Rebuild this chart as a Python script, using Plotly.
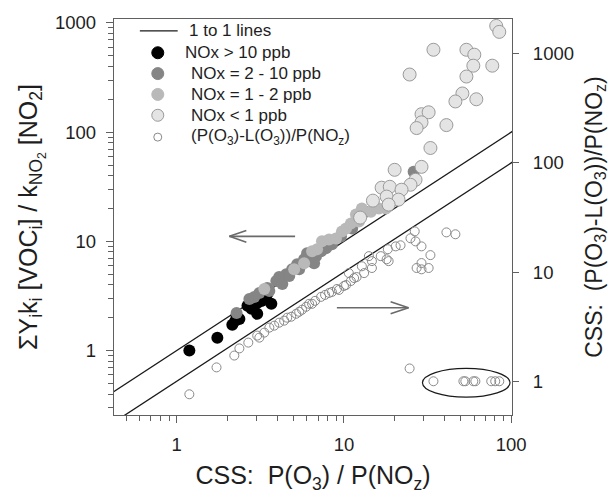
import plotly.graph_objects as go

# ---------------- data ----------------
black_x = [1.19, 1.75, 2.15, 2.28, 2.37, 2.65, 3.03, 3.03, 3.68, 3.21, 2.80, 3.48, 2.24]
black_y = [1.00, 1.31, 1.72, 2.08, 1.95, 2.57, 2.73, 2.17, 2.68, 2.85, 2.41, 3.30, 1.87]

grey_x = [2.28, 3.12, 3.48, 3.94, 4.10, 4.52, 4.90, 5.25, 5.78, 6.02, 6.36, 6.81, 7.30,
          7.81, 8.48, 9.60, 11.2, 13.5, 26.1, 4.28, 3.58, 4.71, 5.40, 6.63, 2.72, 2.91]
grey_y = [2.21, 3.37, 3.74, 4.33, 4.71, 5.01, 5.56, 6.18, 6.86, 7.78, 6.58, 7.31, 8.11,
          8.64, 9.39, 11.1, 13.1, 18.7, 43.3, 4.06, 3.51, 4.81, 5.56, 6.31, 2.97, 3.10]

light_x = [6.45, 7.39, 8.15, 8.96, 9.73, 10.3, 11.0, 11.8, 12.8, 12.3, 14.5, 16.2, 17.8,
           3.34, 5.04, 5.78, 6.91]
light_y = [8.11, 10.0, 10.4, 10.6, 12.3, 13.1, 14.6, 17.6, 20.0, 15.2, 18.7, 20.0, 20.0,
           3.66, 5.56, 6.31, 8.46]

vlight_x = [81.4, 84.9, 34.3, 54.0, 60.2, 59.4, 77.1, 54.0, 24.7, 51.1, 46.4, 61.9, 29.1,
            32.1, 29.1, 27.2, 41.0, 32.9, 20.1, 29.1, 26.8, 25.0, 16.8, 18.8, 22.1, 18.0,
            14.9, 21.2, 18.5, 12.5]
vlight_y = [939, 828, 568, 568, 512, 406, 406, 323, 337, 226, 191, 200, 146,
            152, 123, 109, 116, 71.6, 45.2, 48.1, 36.6, 33.0, 31.0, 31.6, 29.7, 25.7,
            23.6, 24.1, 21.7, 16.5]

# (P(O3)-L(O3))/P(NOz), right axis
open_x = [1.19, 1.73, 2.21, 2.37, 2.68, 3.03, 3.12, 3.58, 4.10, 4.58, 5.18, 5.62, 6.19,
          6.72, 7.30, 8.15, 9.08, 10.0, 11.0, 11.5, 10.7, 12.8, 14.1, 14.7, 14.7, 16.6,
          18.0, 18.5, 18.3, 20.4, 21.8, 25.0, 26.5, 26.8, 29.1, 32.9, 29.1, 27.2, 29.1,
          32.1, 41.0, 46.4, 24.7, 34.3, 51.8, 53.2, 59.4, 61.1, 76.0, 80.3, 84.9,
          3.34, 3.83, 4.39, 4.84, 5.40, 5.94, 6.45, 7.71, 8.48, 9.34, 10.3, 11.9, 13.2]
open_y = [0.76, 1.34, 1.72, 2.0, 2.26, 2.62, 2.51, 3.10, 3.44, 3.82, 4.15, 4.52, 5.12,
          5.45, 5.93, 6.44, 7.0, 7.46, 8.28, 8.82, 9.79, 11.3, 14.0, 12.6, 10.9, 14.0,
          13.1, 12.6, 16.2, 17.2, 17.6, 20.4, 23.6, 19.1, 17.2, 14.3, 12.1, 10.9, 10.6,
          10.9, 23.1, 22.2, 1.31, 1.0, 1.0, 1.0, 1.0, 1.0, 1.0, 1.0, 1.0,
          2.79, 3.23, 3.59, 3.90, 4.33, 4.81, 5.12, 6.18, 6.58, 6.86, 7.62, 9.01, 9.79]

one_to_one = [0.3, 120]

x_ticks = [1, 10, 100]
y_ticks = [1, 10, 100, 1000]
x_minor = [0.5, 0.6, 0.7, 0.8, 0.9, 2, 3, 4, 5, 6, 7, 8, 9, 20, 30, 40, 50, 60, 70, 80, 90]
y_minor = [0.3, 0.4, 0.5, 0.6, 0.7, 0.8, 0.9, 2, 3, 4, 5, 6, 7, 8, 9,
           20, 30, 40, 50, 60, 70, 80, 90, 200, 300, 400, 500, 600, 700, 800, 900]

FONT = "Arial, Liberation Sans, sans-serif"
AX = "#606060"

fig = go.Figure()

fig.add_trace(go.Scatter(x=one_to_one, y=one_to_one, mode="lines",
                         line=dict(color="#1a1a1a", width=1.3), name="1 to 1 lines",
                         showlegend=False))
fig.add_trace(go.Scatter(x=one_to_one, y=one_to_one, mode="lines", yaxis="y2",
                         line=dict(color="#1a1a1a", width=1.3), showlegend=False))

fig.add_trace(go.Scatter(x=black_x, y=black_y, mode="markers", name="NOx > 10 ppb",
                         marker=dict(size=12, color="#000000", line=dict(width=0)),
                         showlegend=False))
fig.add_trace(go.Scatter(x=grey_x, y=grey_y, mode="markers", name="NOx = 2 - 10 ppb",
                         marker=dict(size=12, color="#858585", line=dict(width=0)),
                         showlegend=False))
fig.add_trace(go.Scatter(x=light_x, y=light_y, mode="markers", name="NOx = 1 - 2 ppb",
                         marker=dict(size=12, color="#b9b9b9", line=dict(width=0)),
                         showlegend=False))
fig.add_trace(go.Scatter(x=vlight_x, y=vlight_y, mode="markers", name="NOx < 1 ppb",
                         marker=dict(size=13, color="#e4e4e4",
                                     line=dict(width=1, color="#9a9a9a")),
                         showlegend=False))
fig.add_trace(go.Scatter(x=open_x, y=open_y, mode="markers", yaxis="y2",
                         name="(P(O3)-L(O3))/P(NOz)",
                         marker=dict(size=9, color="rgba(255,255,255,0)", symbol="circle",
                                     line=dict(width=1, color="#8a8a8a")),
                         showlegend=False))

W, H = 614, 498
L, R, T, B = 114, 100, 16, 83
PW, PH = W - L - R, H - T - B


def px(x):
    return (x - L) / PW


def py(y):
    return (H - B - y) / PH


shapes = []
annotations = []

# manual legend
rows = [28, 50, 71, 92, 113, 135]
shapes.append(dict(type="line", xref="paper", yref="paper", x0=px(140), x1=px(178),
                   y0=py(rows[0]), y1=py(rows[0]), line=dict(color="#1a1a1a", width=1.3)))
leg_markers = [("#000000", "#000000", 6), ("#858585", "#858585", 6),
               ("#b9b9b9", "#b9b9b9", 6), ("#e4e4e4", "#9a9a9a", 6),
               ("rgba(0,0,0,0)", "#8a8a8a", 4)]
for (fc, lc, r), yy in zip(leg_markers, rows[1:]):
    shapes.append(dict(type="circle", xref="paper", yref="paper",
                       xsizemode="pixel", ysizemode="pixel",
                       xanchor=px(158), yanchor=py(yy), x0=-r, x1=r, y0=-r, y1=r,
                       fillcolor=fc, line=dict(color=lc, width=1)))
leg_texts = [("1 to 1 lines", 187), ("NOx > 10 ppb", 183), ("NOx = 2 - 10 ppb", 189),
             ("NOx = 1 - 2 ppb", 189), ("NOx < 1 ppb", 189),
             ("(P(O<sub>3</sub>)-L(O<sub>3</sub>))/P(NO<sub>z</sub>)", 189)]
for (t, xx), yy in zip(leg_texts, rows):
    annotations.append(dict(text=t, xref="paper", yref="paper", x=px(xx), y=py(yy),
                            xanchor="left", yanchor="middle", showarrow=False,
                            font=dict(family=FONT, size=17, color="#1e1e1e")))

# arrows
ac = dict(color="#6a6a6a", width=1.6)
for (x0, y0, x1, y1) in [(296, 235, 230, 235), (230, 235, 247, 229), (230, 235, 247, 241),
                         (338, 307, 410, 307), (410, 307, 392, 301), (410, 307, 392, 313)]:
    shapes.append(dict(type="line", xref="paper", yref="paper", x0=px(x0), y0=py(y0),
                       x1=px(x1), y1=py(y1), line=ac))

# ellipse around the cluster at 1
shapes.append(dict(type="circle", xref="paper", yref="paper", x0=px(424), x1=px(512),
                   y0=py(397), y1=py(368), line=dict(color="#1a1a1a", width=1.2)))

tickfont = dict(family=FONT, size=18.5, color="#1e1e1e")

fig.update_layout(
    width=W, height=H,
    margin=dict(l=L, r=R, t=T, b=B),
    paper_bgcolor="white", plot_bgcolor="white",
    showlegend=False,
    font=dict(family=FONT),
    shapes=shapes,
    annotations=annotations,
    xaxis=dict(type="log", range=[-0.375, 2.005], tickmode="array", tickvals=x_ticks,
               ticktext=[str(v) for v in x_ticks],
               ticks="outside", ticklen=7, tickwidth=1.2, tickcolor=AX,
               showline=True, linecolor=AX, linewidth=1.3, mirror=True,
               showgrid=False, zeroline=False, tickfont=tickfont,
               ticklabelstandoff=6,
               minor=dict(tickmode="array", tickvals=x_minor, ticks="outside",
                          ticklen=5, tickwidth=1.1, tickcolor=AX, showgrid=False),
               title=dict(text="CSS:  P(O<sub>3</sub>) / P(NO<sub>z</sub>)",
                          font=dict(family=FONT, size=25, color="#1e1e1e"), standoff=12)),
    yaxis=dict(type="log", range=[-0.59, 3.036], tickmode="array", tickvals=y_ticks,
               ticktext=[str(v) for v in y_ticks],
               ticks="outside", ticklen=7, tickwidth=1.2, tickcolor=AX,
               showline=True, linecolor=AX, linewidth=1.3,
               showgrid=False, zeroline=False, tickfont=tickfont,
               ticklabelstandoff=6,
               minor=dict(tickmode="array", tickvals=y_minor, ticks="outside",
                          ticklen=5, tickwidth=1.1, tickcolor=AX, showgrid=False),
               title=dict(text="ΣY<sub>i</sub>k<sub>i</sub> [VOC<sub>i</sub>] / k<sub>NO<sub>2</sub></sub> [NO<sub>2</sub>]",
                          font=dict(family=FONT, size=25, color="#1e1e1e"), standoff=10)),
    yaxis2=dict(type="log", range=[-0.309, 3.318], overlaying="y", side="right",
                tickmode="array", tickvals=y_ticks, ticktext=[str(v) for v in y_ticks],
                ticks="outside", ticklen=6, tickwidth=1.2, tickcolor=AX,
                showline=True, linecolor=AX, linewidth=1.3,
                showgrid=False, zeroline=False, tickfont=tickfont,
                ticklabelstandoff=10,
                title=dict(text="CSS:  (P(O<sub>3</sub>)-L(O<sub>3</sub>))/P(NO<sub>z</sub>)",
                           font=dict(family=FONT, size=23, color="#1e1e1e"), standoff=12)),
)

fig.write_html("out.html")
